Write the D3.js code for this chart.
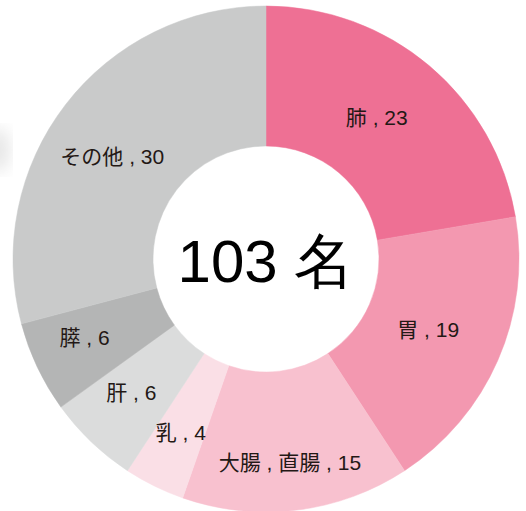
<!DOCTYPE html>
<html>
<head>
<meta charset="utf-8">
<script src="https://cdn.jsdelivr.net/npm/d3@7"></script>
<style>
  body { margin: 0; background: #fff; }
  svg { display: block; }
</style>
</head>
<body>
<div id="chart"></div>
<script>
// ----------------------------------------------------------------------------
// data
// ----------------------------------------------------------------------------
const categories = ['肺', '胃', '大腸 , 直腸', '乳', '肝', '膵', 'その他'];
const counts = [23, 19, 15, 4, 6, 6, 30];
const colors = ['#ee7094', '#f398b0', '#f8c1cf', '#fadfe6', '#dbdcdc', '#b4b5b5', '#c9caca'];
const centerLabel = '103 名';

// label placement tweaks per slice (layout only): distance and angle shift in degrees
const labelRadius = [180, 177, 205, 193, 190, 198, 185];
const labelShift = [-2.2, 0, 0.3, 0, 1.5, 1.8, -3.8];

const W = 526, H = 511;
const cx = 266, cy = 259;
const outerR = 253, innerR = 113;

const svg = d3.select('#chart').append('svg')
  .attr('width', W)
  .attr('height', H);

// faint smudge on the left edge
const defs = svg.append('defs');
defs.append('filter').attr('id', 'blur')
  .append('feGaussianBlur').attr('stdDeviation', 8);
svg.append('ellipse')
  .attr('cx', -2).attr('cy', 150)
  .attr('rx', 12).attr('ry', 22)
  .attr('fill', '#e6e6e6')
  .attr('filter', 'url(#blur)');

const g = svg.append('g').attr('transform', `translate(${cx},${cy})`);

const pie = d3.pie().sort(null).value(d => d);
const arcs = pie(counts);

const arc = d3.arc().innerRadius(innerR).outerRadius(outerR);

g.selectAll('path.slice')
  .data(arcs)
  .enter()
  .append('path')
  .attr('class', 'slice')
  .attr('d', arc)
  .attr('fill', (d, i) => colors[i])
  .attr('stroke', (d, i) => colors[i])
  .attr('stroke-width', 0.5);

const midAngle = (d, i) => (d.startAngle + d.endAngle) / 2 + labelShift[i] * Math.PI / 180;

g.selectAll('text.lbl')
  .data(arcs)
  .enter()
  .append('text')
  .attr('class', 'lbl')
  .attr('x', (d, i) => labelRadius[i] * Math.sin(midAngle(d, i)))
  .attr('y', (d, i) => -labelRadius[i] * Math.cos(midAngle(d, i)))
  .attr('dy', '0.35em')
  .attr('text-anchor', 'middle')
  .style('font-family', '"Liberation Sans", "Noto Sans CJK JP", sans-serif')
  .style('font-size', '21px')
  .attr('fill', '#231815')
  .text((d, i) => `${categories[i]} , ${d.data}`);

g.append('text')
  .attr('x', 0)
  .attr('y', 23)
  .attr('text-anchor', 'middle')
  .style('font-family', '"Liberation Sans", Arial, sans-serif')
  .style('font-size', '60px')
  .attr('fill', '#000')
  .text(centerLabel);
</script>
</body>
</html>
